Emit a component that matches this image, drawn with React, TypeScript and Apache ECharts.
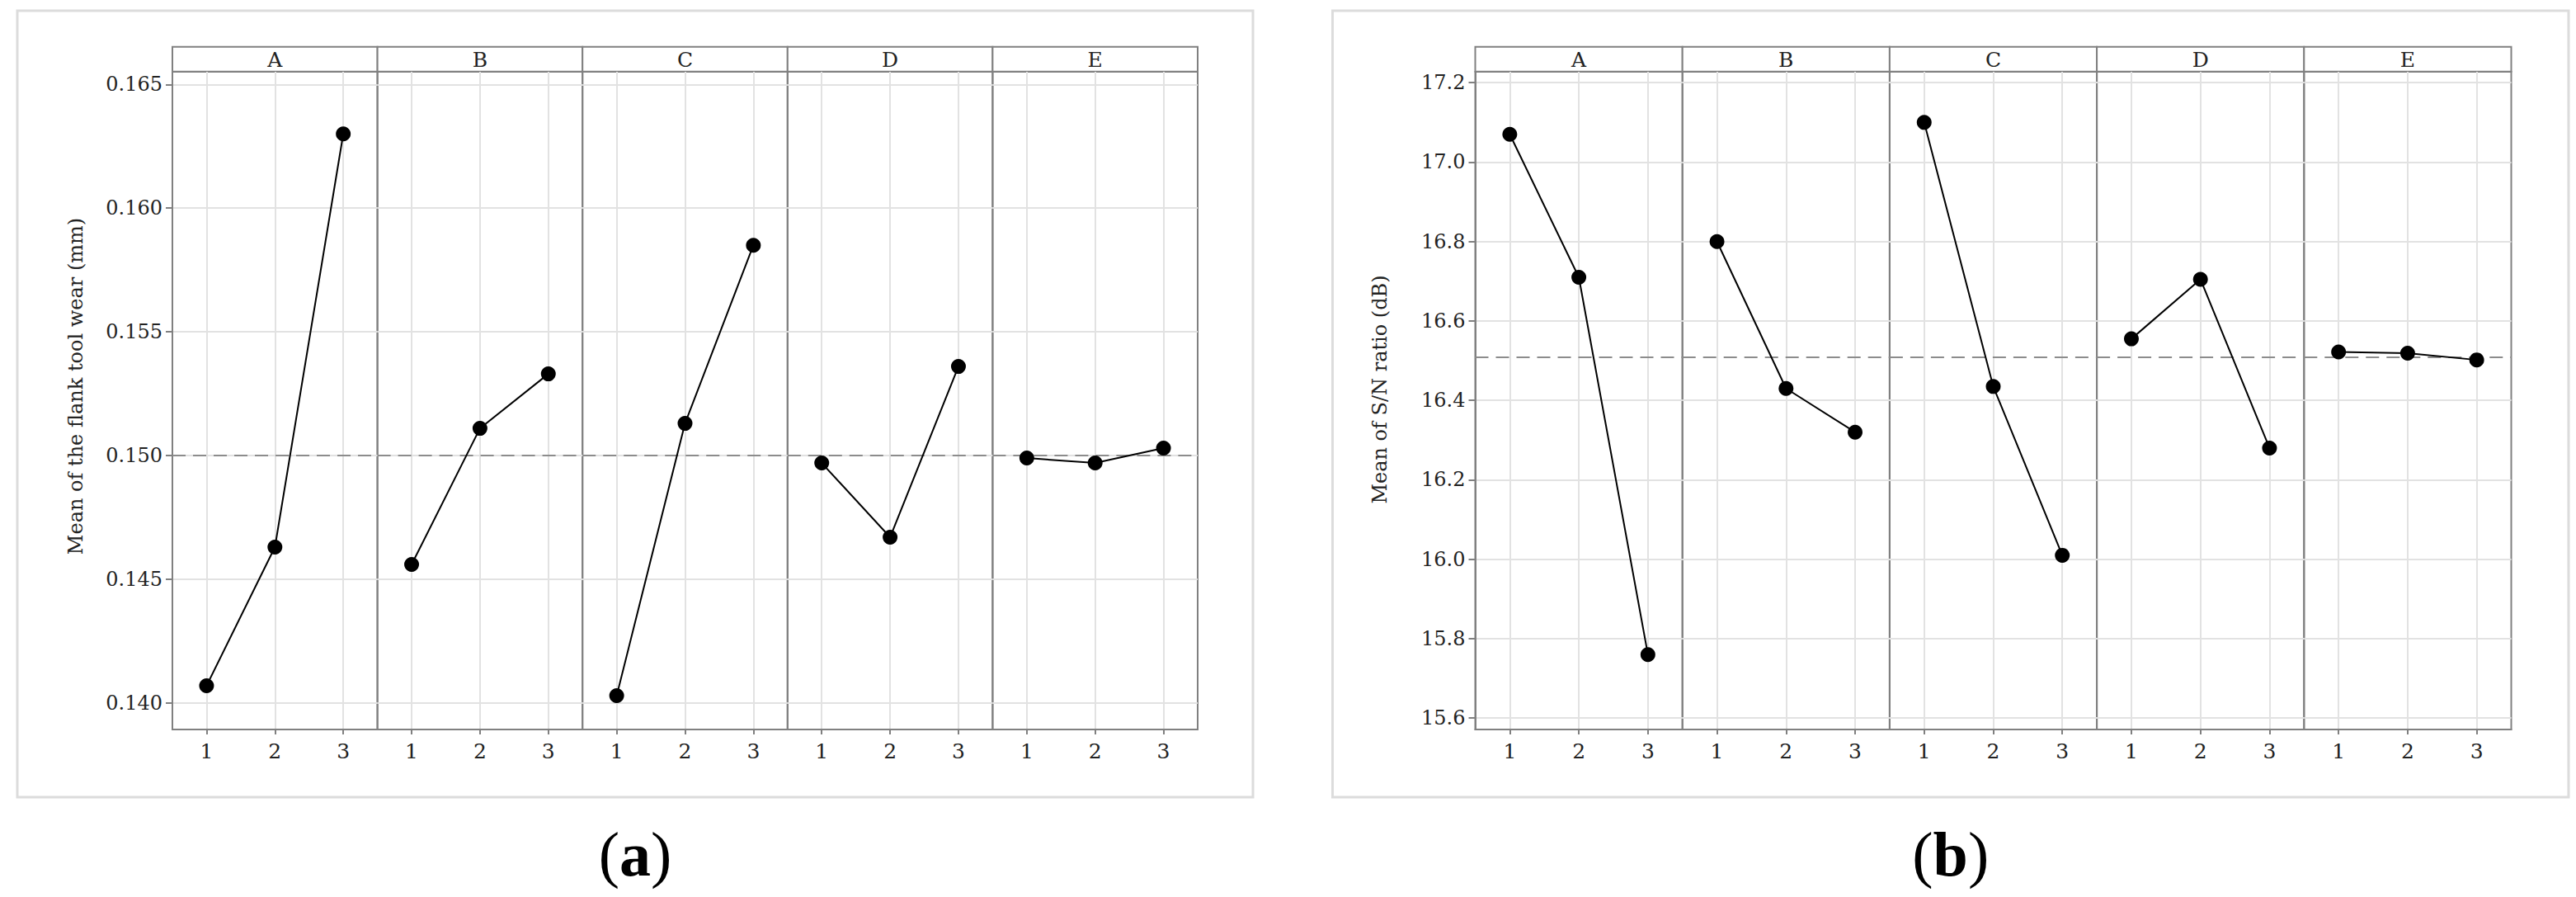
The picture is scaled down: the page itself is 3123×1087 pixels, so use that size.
import React, { useEffect, useRef } from 'react';
import * as echarts from 'echarts';

// ---- data ----
const factors = ['A', 'B', 'C', 'D', 'E'];
const levels = [1, 2, 3];

// (a) mean of the flank tool wear (mm)
const wearMeans = [
  [0.1407, 0.1463, 0.163],
  [0.1456, 0.1511, 0.1533],
  [0.1403, 0.1513, 0.1585],
  [0.1497, 0.1467, 0.1536],
  [0.1499, 0.1497, 0.1503],
];
const wearOverallMean = 0.15;
const wearTicks = [0.14, 0.145, 0.15, 0.155, 0.16, 0.165];
const wearRange = [0.13893, 0.16551];

// (b) mean of S/N ratio (dB)
const snMeans = [
  [17.07, 16.71, 15.76],
  [16.8, 16.43, 16.32],
  [17.1, 16.435, 16.01],
  [16.555, 16.705, 16.28],
  [16.522, 16.519, 16.502],
];
const snOverallMean = 16.514;
const snTicks = [15.6, 15.8, 16.0, 16.2, 16.4, 16.6, 16.8, 17.0, 17.2];
const snRange = [15.5713, 17.2275];

const FONT = "'DejaVu Serif', serif";
const BORDER = '#808080';
const GRIDLINE = '#e2e2e2';
const TEXT = '#222222';

const charts = [
  {
    title: 'Mean of the flank tool wear (mm)',
    label: 'a',
    values: wearMeans,
    mean: wearOverallMean,
    ticks: wearTicks,
    range: wearRange,
    decimals: 3,
    left: 209,
    panelW: 248.6,
    frame: { x: 21, y: 13, w: 1498, h: 953 },
    titlePos: [92, 468],
  },
  {
    title: 'Mean of S/N ratio (dB)',
    label: 'b',
    values: snMeans,
    mean: snOverallMean,
    ticks: snTicks,
    range: snRange,
    decimals: 1,
    left: 1788.5,
    panelW: 251.2,
    frame: { x: 1615.5, y: 13, w: 1498.5, h: 953 },
    titlePos: [1673, 472],
  },
];

const GRID_TOP = 87;
const GRID_H = 797;
const STRIP_TOP = 56.7;
const STRIP_H = 30;

function buildOption() {
  const grid: any[] = [];
  const xAxis: any[] = [];
  const yAxis: any[] = [];
  const series: any[] = [];
  const graphic: any[] = [];

  charts.forEach((c, ci) => {
    graphic.push({
      type: 'rect',
      shape: { x: c.frame.x, y: c.frame.y, width: c.frame.w, height: c.frame.h },
      style: { fill: 'none', stroke: '#dcdcdc', lineWidth: 3 },
      z: 0,
    });
    graphic.push({
      type: 'text',
      x: c.titlePos[0],
      y: c.titlePos[1],
      rotation: Math.PI / 2,
      style: {
        text: c.title,
        fontSize: 24,
        fontFamily: FONT,
        fill: TEXT,
        align: 'center',
        verticalAlign: 'middle',
        textAlign: 'center',
        textVerticalAlign: 'middle',
      },
    });
    graphic.push({
      type: 'text',
      x: c.frame.x + c.frame.w / 2,
      y: 1035,
      style: {
        text: '({b|' + c.label + '})',
        fontSize: 76,
        fontFamily: "'Liberation Serif', serif",
        fill: '#000',
        align: 'center',
        verticalAlign: 'middle',
        textAlign: 'center',
        textVerticalAlign: 'middle',
        rich: {
          b: {
            fontSize: 76,
            fontWeight: 'bold',
            fontFamily: "'Liberation Serif', serif",
            fill: '#000',
          },
        },
      },
    });

    factors.forEach((f, fi) => {
      const idx = ci * 5 + fi;
      const left = c.left + fi * c.panelW;
      grid.push({
        left,
        top: GRID_TOP,
        width: c.panelW,
        height: GRID_H,
        show: true,
        borderColor: BORDER,
        borderWidth: 2,
        backgroundColor: 'transparent',
        containLabel: false,
        outerBoundsMode: 'none',
      });
      // strip header
      graphic.push({
        type: 'rect',
        shape: { x: left, y: STRIP_TOP, width: c.panelW, height: STRIP_H },
        style: { fill: '#fff', stroke: BORDER, lineWidth: 2 },
      });
      graphic.push({
        type: 'text',
        x: left + c.panelW / 2,
        y: STRIP_TOP + STRIP_H / 2 + 1,
        style: {
          text: f,
          fontSize: 25,
          fontFamily: FONT,
          fill: TEXT,
          align: 'center',
          verticalAlign: 'middle',
          textAlign: 'center',
          textVerticalAlign: 'middle',
        },
      });

      xAxis.push({
        gridIndex: idx,
        type: 'value',
        min: 0.5,
        max: 3.5,
        splitNumber: 3,
        axisLine: { show: true, onZero: false, lineStyle: { color: BORDER, width: 2 } },
        axisTick: { show: true, length: 6, customValues: levels, lineStyle: { color: BORDER, width: 2 } },
        axisLabel: {
          show: true,
          customValues: levels,
          margin: 14,
          fontSize: 25,
          fontFamily: FONT,
          color: TEXT,
        },
        splitLine: { show: true, lineStyle: { color: GRIDLINE, width: 2 } },
      });
      yAxis.push({
        gridIndex: idx,
        type: 'value',
        min: c.range[0],
        max: c.range[1],
        axisLine: { show: fi === 0, onZero: false, lineStyle: { color: BORDER, width: 2 } },
        axisTick: { show: fi === 0, length: 8, customValues: c.ticks, lineStyle: { color: BORDER, width: 2 } },
        axisLabel: {
          show: fi === 0,
          customValues: c.ticks,
          margin: 12,
          fontSize: 24,
          fontFamily: FONT,
          color: TEXT,
          formatter: (v: number) => v.toFixed(c.decimals),
        },
        splitLine: { show: true, lineStyle: { color: GRIDLINE, width: 2 } },
      });
      series.push({
        type: 'line',
        name: f,
        xAxisIndex: idx,
        yAxisIndex: idx,
        data: levels.map((l, li) => [l, c.values[fi][li]]),
        symbol: 'circle',
        symbolSize: 18,
        itemStyle: { color: '#000' },
        lineStyle: { color: '#000', width: 2 },
        z: 5,
        markLine: {
          silent: true,
          symbol: 'none',
          label: { show: false },
          lineStyle: { color: '#8c8c8c', type: [16, 9], width: 2 },
          data: [{ yAxis: c.mean }],
          z: 3,
        },
      });
    });
  });

  return {
    animation: false,
    backgroundColor: '#ffffff',
    grid,
    xAxis,
    yAxis,
    series,
    graphic,
  };
}

export default function App() {
  const ref = useRef<HTMLDivElement>(null);
  useEffect(() => {
    if (!ref.current) return;
    const chart = echarts.init(ref.current, undefined, { renderer: 'svg' });
    chart.setOption(buildOption() as any);
    return () => chart.dispose();
  }, []);
  return (
    <div
      ref={ref}
      style={{ position: 'absolute', left: 0, top: 0, width: 3123, height: 1087 }}
    />
  );
}
